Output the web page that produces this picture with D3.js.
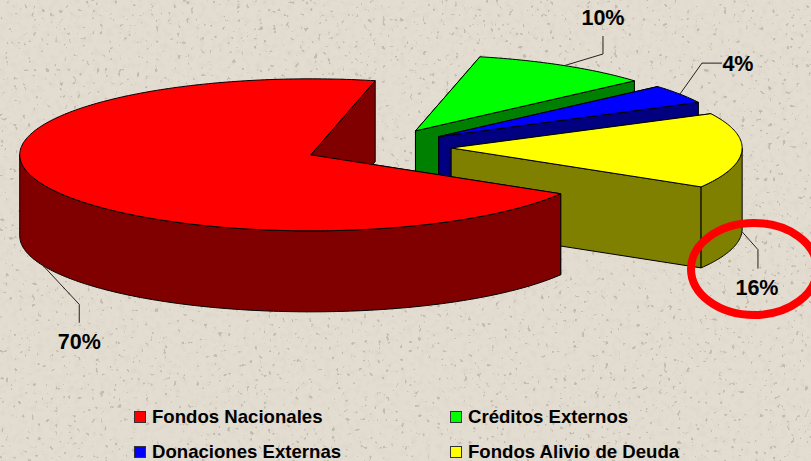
<!DOCTYPE html>
<html>
<head>
<meta charset="utf-8">
<script src="https://cdnjs.cloudflare.com/ajax/libs/d3/7.8.5/d3.min.js"></script>
<style>
  html, body { margin: 0; padding: 0; background: #e1dacd; overflow: hidden; }
  svg { display: block; }
  text { font-family: "Liberation Sans", Arial, sans-serif; font-weight: bold; fill: #000; }
</style>
</head>
<body>
<svg id="chart" width="811" height="461"></svg>
<script>
const categories = ['Fondos Nacionales', 'Créditos Externos', 'Donaciones Externas', 'Fondos Alivio de Deuda'];
const values = [70, 10, 4, 16];
const topColors = ['#ff0000', '#00ff00', '#0000ff', '#ffff00'];
const wallColors = ['#800000', '#008000', '#000080', '#808000'];

const width = 811, height = 461;
const cx = 378, cy = 147.3;     // pie centre before the slices are pulled out
const rx = 291, ry = 76;
const depth = 81;
const explode = 0.2515;
const firstAngle = 120.8 * Math.PI / 180;

// leader elbow and label, relative to the rim point of each slice
const leaders = [
  {elbow: [36, 38.6], end: [36, 57], text: [36, 83.3]},
  {elbow: [38.5, -11.6], end: [38.5, -29.6], text: [38.5, -40.6]},
  {elbow: [22, -31], end: [42, -31], text: [58, -23.4]},
  {elbow: [16, 18], end: [16, 37], text: [15, 63.4]}
];

const svg = d3.select('#chart');

// paper texture: soft mottling plus a few small dark specks
const defs = svg.append('defs');
const paper = defs.append('filter').attr('id', 'paper')
  .attr('x', 0).attr('y', 0).attr('width', '100%').attr('height', '100%');
paper.append('feTurbulence')
  .attr('type', 'fractalNoise').attr('baseFrequency', 0.16).attr('numOctaves', 3).attr('seed', 11);
paper.append('feColorMatrix').attr('type', 'matrix')
  .attr('values', '0 0 0 0 0.55  0 0 0 0 0.50  0 0 0 0 0.42  0 0 0 1.6 -0.75');
const specks = defs.append('filter').attr('id', 'specks')
  .attr('x', 0).attr('y', 0).attr('width', '100%').attr('height', '100%');
specks.append('feTurbulence')
  .attr('type', 'fractalNoise').attr('baseFrequency', 0.22).attr('numOctaves', 2).attr('seed', 4);
specks.append('feColorMatrix').attr('type', 'matrix')
  .attr('values', '0 0 0 0 0.42  0 0 0 0 0.38  0 0 0 0 0.32  0 0 0 14 -9.6');
specks.append('feGaussianBlur').attr('stdDeviation', 0.6);

svg.append('rect').attr('width', width).attr('height', height).attr('fill', '#e3dcd0');
svg.append('rect').attr('width', width).attr('height', height).attr('filter', 'url(#paper)').attr('opacity', 0.28);
svg.append('rect').attr('width', width).attr('height', height).attr('filter', 'url(#specks)').attr('opacity', 0.6);

const pie = d3.pie().sort(null)
  .startAngle(firstAngle)
  .endAngle(firstAngle + 2 * Math.PI);

const line = d3.line();

const slices = pie(values).map((d, i) => {
  const mid = (d.startAngle + d.endAngle) / 2;
  return {
    ...d, i, mid,
    x: cx + explode * rx * Math.sin(mid),
    y: cy - explode * ry * Math.cos(mid)
  };
});

function rim(s, t, drop = 0) {
  return [s.x + rx * Math.sin(t), s.y - ry * Math.cos(t) + drop];
}

function arcPoints(s, a0, a1, drop = 0) {
  const n = Math.max(2, Math.ceil(Math.abs(a1 - a0) * 60));
  return d3.range(n + 1).map(k => rim(s, a0 + (a1 - a0) * k / n, drop));
}

const sideWall = (s, t) => line([
  [s.x, s.y], rim(s, t), rim(s, t, depth), [s.x, s.y + depth]
]) + 'Z';

function outerWall(s) {
  // only the part of the rim that faces the viewer: 90deg to 270deg, and 450 to 630
  const walls = [];
  [[Math.PI / 2, 3 * Math.PI / 2], [5 * Math.PI / 2, 7 * Math.PI / 2]].forEach(([lo, hi]) => {
    const a0 = Math.max(lo, s.startAngle), a1 = Math.min(hi, s.endAngle);
    if (a1 > a0) {
      walls.push(line(arcPoints(s, a0, a1).concat(arcPoints(s, a1, a0, depth))) + 'Z');
    }
  });
  return walls;
}

const topFace = s => line([[s.x, s.y]].concat(arcPoints(s, s.startAngle, s.endAngle))) + 'Z';

// back to front: green, blue, yellow, red
const drawOrder = [1, 2, 3, 0];

const pieG = svg.append('g')
  .attr('stroke', '#000').attr('stroke-width', 1).attr('stroke-linejoin', 'round');

drawOrder.forEach(i => {
  const s = slices[i];
  const g = pieG.append('g');
  const walls = [sideWall(s, s.startAngle), sideWall(s, s.endAngle)].concat(outerWall(s));
  g.selectAll('path.wall').data(walls).join('path')
    .attr('class', 'wall').attr('d', d => d).attr('fill', wallColors[i]);
  g.append('path').attr('d', topFace(s)).attr('fill', topColors[i]);
});

// leaders and percent labels
const labelG = svg.append('g');
slices.forEach(s => {
  const facing = Math.cos(s.mid) < 0;
  const p = rim(s, s.mid, facing ? depth : 0);
  const l = leaders[s.i];
  labelG.append('path')
    .attr('d', line([p, [p[0] + l.elbow[0], p[1] + l.elbow[1]], [p[0] + l.end[0], p[1] + l.end[1]]]))
    .attr('fill', 'none').attr('stroke', '#222').attr('stroke-width', 1);
  labelG.append('text')
    .attr('x', p[0] + l.text[0]).attr('y', p[1] + l.text[1])
    .attr('text-anchor', 'middle').attr('font-size', 21.5)
    .text(d3.format('d')(s.value) + '%');
});

// legend
const legendCol = d3.scalePoint().domain([0, 1]).range([134, 450]);
const legendRow = d3.scalePoint().domain([0, 1]).range([411, 446]);
const legend = svg.append('g').selectAll('g').data(categories).join('g')
  .attr('transform', (d, i) => `translate(${legendCol(i % 2)},${legendRow(Math.floor(i / 2))})`);
legend.append('rect')
  .attr('x', 0.5).attr('y', 0.5).attr('width', 11).attr('height', 11)
  .attr('fill', (d, i) => topColors[i]).attr('stroke', '#333').attr('stroke-width', 1);
legend.append('text')
  .attr('x', 18).attr('y', 12.2)
  .attr('font-size', 18.6)
  .text(d => d);

// red ring drawn over the 16% label, runs slightly past the right edge
svg.append('ellipse')
  .attr('cx', 754).attr('cy', 269).attr('rx', 63).attr('ry', 46)
  .attr('fill', 'none').attr('stroke', '#ff0000').attr('stroke-width', 8);
</script>
</body>
</html>
